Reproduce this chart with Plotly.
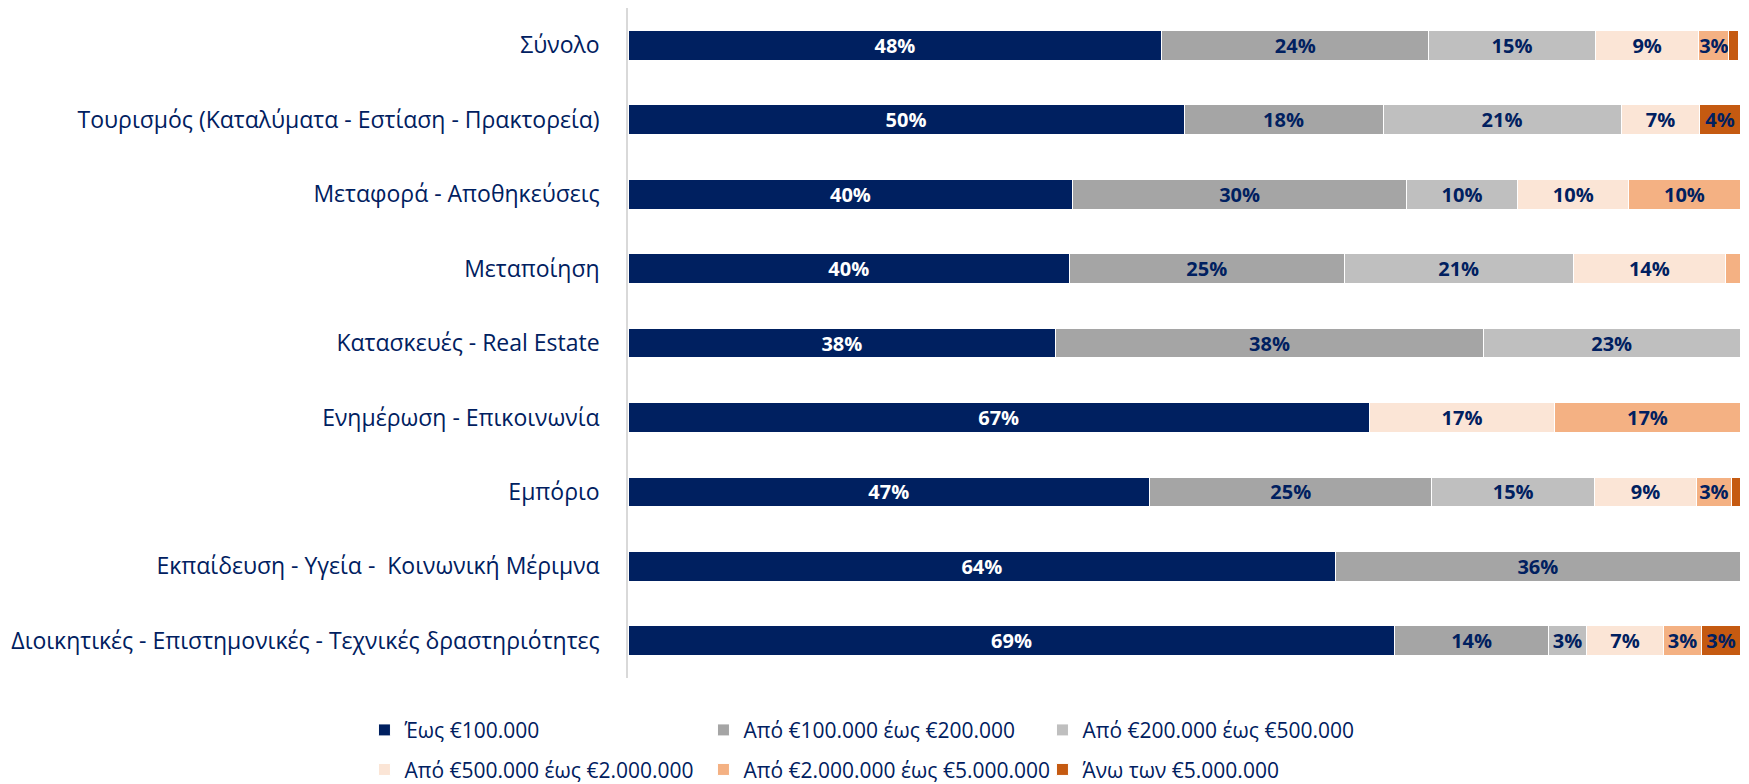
import plotly.graph_objects as go

categories = [
    "Σύνολο",
    "Τουρισμός (Καταλύματα - Εστίαση - Πρακτορεία)",
    "Μεταφορά - Αποθηκεύσεις",
    "Μεταποίηση",
    "Κατασκευές - Real Estate",
    "Ενημέρωση - Επικοινωνία",
    "Εμπόριο",
    "Εκπαίδευση - Υγεία -  Κοινωνική Μέριμνα",
    "Διοικητικές - Επιστημονικές - Τεχνικές δραστηριότητες",
]

series_names = [
    "Έως €100.000",
    "Από €100.000 έως €200.000",
    "Από €200.000 έως €500.000",
    "Από €500.000 έως €2.000.000",
    "Από €2.000.000 έως €5.000.000",
    "Άνω των €5.000.000",
]

upto_100k = [48.0, 50.0, 40.0, 39.7, 38.46, 66.67, 46.9, 63.64, 68.97]
from_100k_200k = [24.0, 17.9, 30.0, 24.7, 38.46, 0, 25.4, 36.36, 13.79]
from_200k_500k = [15.0, 21.4, 10.0, 20.6, 23.08, 0, 14.6, 0, 3.45]
from_500k_2m = [9.3, 7.1, 10.0, 13.7, 0, 16.67, 9.2, 0, 6.90]
from_2m_5m = [2.7, 0, 10.0, 1.4, 0, 16.67, 3.1, 0, 3.45]
over_5m = [0.9, 3.6, 0, 0, 0, 0, 0.8, 0, 3.45]

series_values = [upto_100k, from_100k_200k, from_200k_500k, from_500k_2m, from_2m_5m, over_5m]
colors = ["#002060", "#A5A5A5", "#BFBFBF", "#FBE5D6", "#F4B183", "#C55A11"]
text_colors = ["#FFFFFF", "#002060", "#002060", "#002060", "#002060", "#002060"]
legend_ids = ["legend", "legend", "legend", "legend2", "legend2", "legend2"]

FONT = "Open Sans"
NAVY = "#002060"

fig = go.Figure()
for name, vals, col, tcol, lg in zip(series_names, series_values, colors, text_colors, legend_ids):
    labels = [f"{round(v)}%" if v >= 2 else "" for v in vals]
    fig.add_trace(go.Bar(
        y=categories, x=vals, name=name, orientation="h",
        marker=dict(color=col, line=dict(color="#FFFFFF", width=1)),
        text=labels, textposition="inside", insidetextanchor="middle",
        textfont=dict(family=FONT, size=20, color=tcol, weight="bold"),
        width=0.4, legend=lg, hoverinfo="skip",
    ))

legend_common = dict(orientation="h", xanchor="left", yanchor="middle",
                     entrywidth=294, entrywidthmode="pixels", traceorder="normal",
                     font=dict(family=FONT, size=21, color=NAVY), itemwidth=30)

# the page places the figure 8px in from the top-left corner, so the
# figure is made 8px smaller in each direction to fill the 1749x784 window
fig.update_layout(
    barmode="stack",
    width=1741, height=776,
    margin=dict(l=620, r=9, t=0, b=106, autoexpand=False),
    plot_bgcolor="#FFFFFF", paper_bgcolor="#FFFFFF",
    font=dict(family=FONT, color=NAVY),
    uniformtext=dict(mode="show", minsize=20),
    xaxis=dict(range=[0, 100], showgrid=False, zeroline=False, showticklabels=False,
               showline=False, fixedrange=True),
    yaxis=dict(autorange="reversed", showgrid=False, zeroline=False,
               showline=True, linecolor="#D9D9D9", linewidth=1.5,
               ticks="", ticklabelstandoff=22, automargin=False,
               tickfont=dict(family=FONT, size=23, color=NAVY)),
    legend=dict(x=-0.237, y=-0.078, **legend_common),
    legend2=dict(x=-0.237, y=-0.137, **legend_common),
)

fig.write_html("out.html")
